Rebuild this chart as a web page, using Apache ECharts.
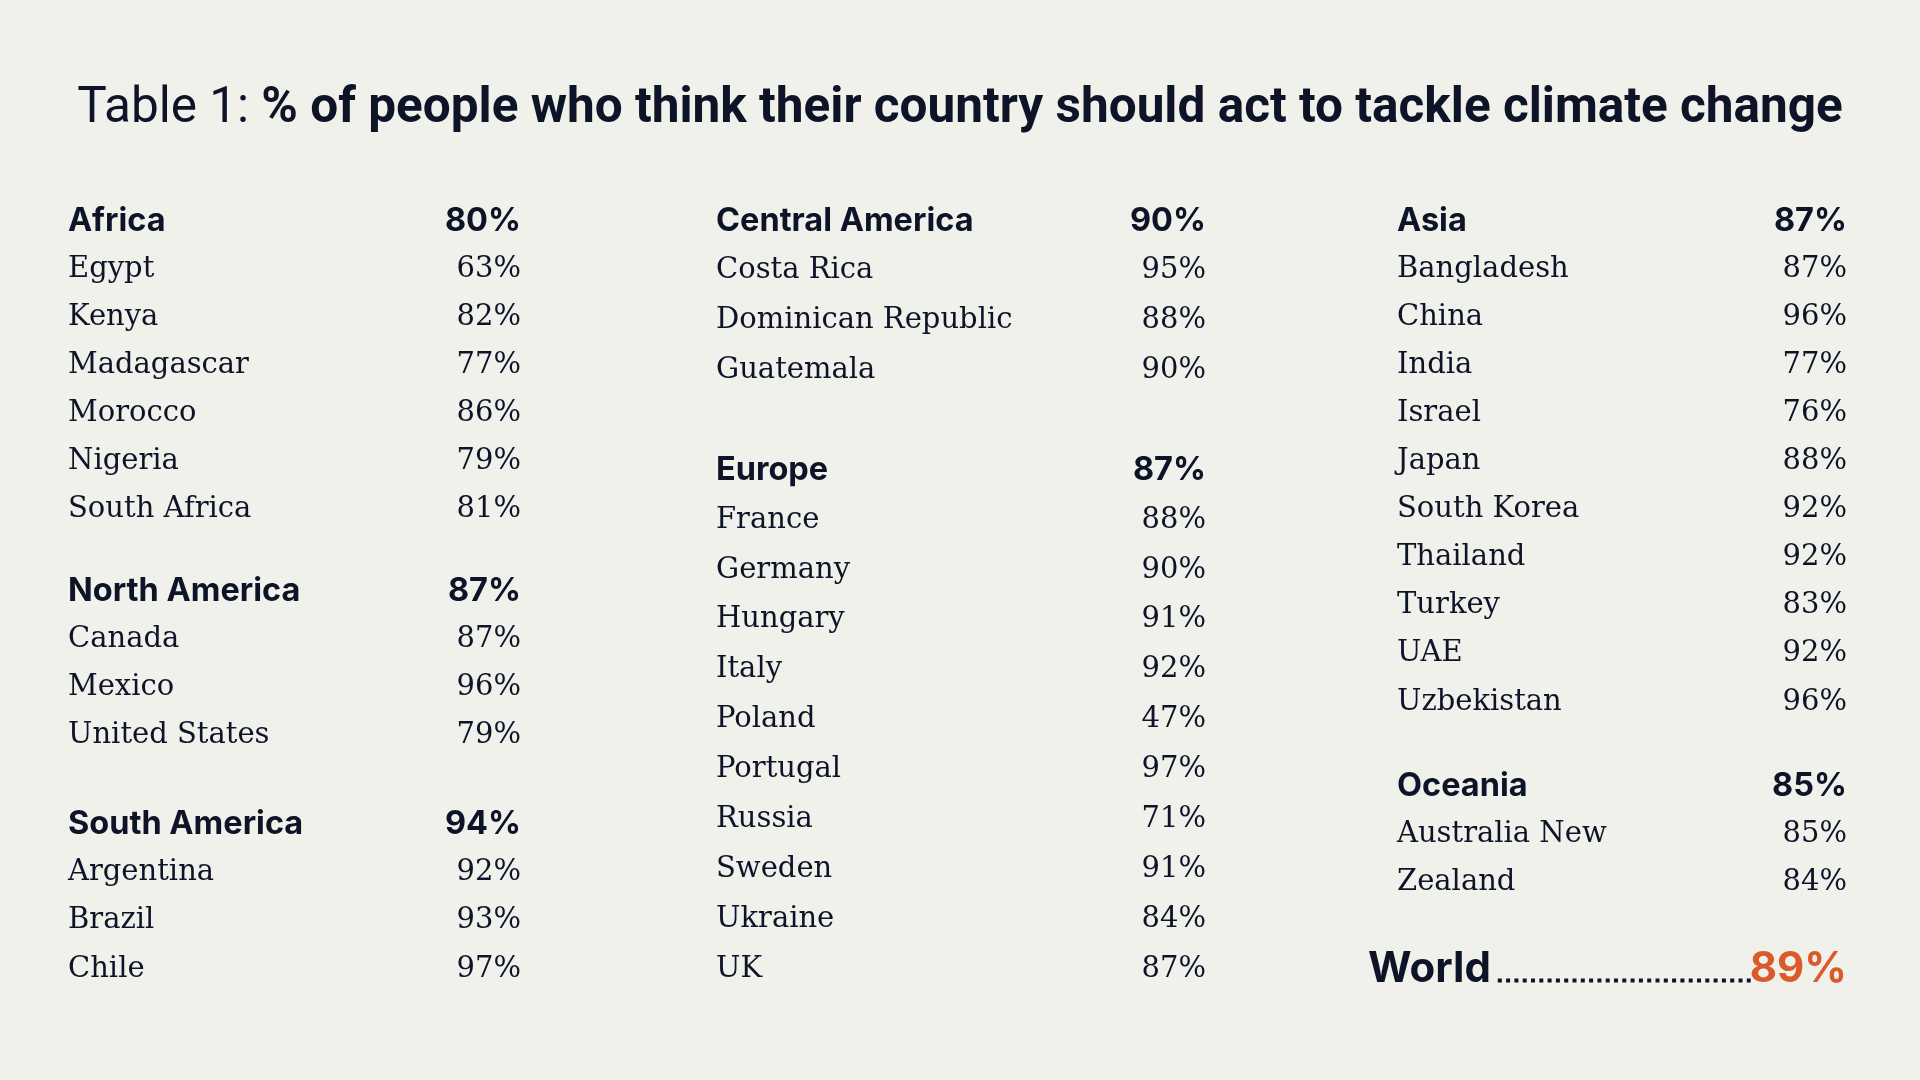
<!DOCTYPE html>
<html>
<head>
<meta charset="utf-8">
<script src="https://cdn.jsdelivr.net/npm/echarts@6/dist/echarts.min.js"></script>
<style>
html, body { margin: 0; padding: 0; background: #f1f1ec; }
#chart { width: 1920px; height: 1080px; }
</style>
</head>
<body>
<div id="chart"></div>
<script>
// region totals
var regionNames = ['Africa', 'North America', 'South America', 'Central America', 'Europe', 'Asia', 'Oceania'];
var regionValues = [80, 87, 94, 90, 87, 87, 85];

// countries per region
var africaNames = ['Egypt', 'Kenya', 'Madagascar', 'Morocco', 'Nigeria', 'South Africa'];
var africaValues = [63, 82, 77, 86, 79, 81];
var northAmericaNames = ['Canada', 'Mexico', 'United States'];
var northAmericaValues = [87, 96, 79];
var southAmericaNames = ['Argentina', 'Brazil', 'Chile'];
var southAmericaValues = [92, 93, 97];
var centralAmericaNames = ['Costa Rica', 'Dominican Republic', 'Guatemala'];
var centralAmericaValues = [95, 88, 90];
var europeNames = ['France', 'Germany', 'Hungary', 'Italy', 'Poland', 'Portugal', 'Russia', 'Sweden', 'Ukraine', 'UK'];
var europeValues = [88, 90, 91, 92, 47, 97, 71, 91, 84, 87];
var asiaNames = ['Bangladesh', 'China', 'India', 'Israel', 'Japan', 'South Korea', 'Thailand', 'Turkey', 'UAE', 'Uzbekistan'];
var asiaValues = [87, 96, 77, 76, 88, 92, 92, 83, 92, 96];
var oceaniaNames = ['Australia New', 'Zealand'];
var oceaniaValues = [85, 84];

var worldName = 'World';
var worldValue = 89;

var countryNames = [africaNames, northAmericaNames, southAmericaNames, centralAmericaNames, europeNames, asiaNames, oceaniaNames];
var countryValues = [africaValues, northAmericaValues, southAmericaValues, centralAmericaValues, europeValues, asiaValues, oceaniaValues];

// layout: which regions go in which column, and the extra gap before each later group
var columnRegions = [[0, 1, 2], [3, 4], [5, 6]];
var columnGaps = [[0.7, 0.85], [1.0], [0.75]];
var columnLeft = [68, 716, 1397];
var columnRight = [521, 1206, 1847];
var worldGap = 0.8;

var ink = '#0e1428';
var orange = '#db5a2b';
var serif = 'DejaVu Serif';
var sans = 'Inter';

var headerLabel = { fontFamily: sans, fontWeight: 700, fontSize: 32.5, color: ink };
var countryLabel = { fontFamily: serif, fontWeight: 400, fontSize: 29, color: ink };

var grids = [], xAxes = [], yAxes = [], series = [];

for (var c = 0; c < columnRegions.length; c++) {
    var rows = [];
    var pos = 0;
    for (var g = 0; g < columnRegions[c].length; g++) {
        var r = columnRegions[c][g];
        if (g > 0) pos += 1 + columnGaps[c][g - 1];
        rows.push({ name: regionNames[r], value: regionValues[r], y: pos, kind: 'header' });
        for (var k = 0; k < countryNames[r].length; k++) {
            pos += 1;
            rows.push({ name: countryNames[r][k], value: countryValues[r][k], y: pos, kind: 'country' });
        }
    }
    var worldY = null;
    if (c === 2) {
        pos += 1 + worldGap;
        worldY = pos;
        rows.push({ name: worldName, value: worldValue, y: pos, kind: 'world' });
    }

    grids.push({ left: columnLeft[c], right: 1920 - columnRight[c], top: 221, bottom: 111 });
    xAxes.push({ type: 'value', gridIndex: c, min: 0, max: 1, show: false });
    yAxes.push({ type: 'value', gridIndex: c, min: 0, max: pos, inverse: true, show: false });

    series.push({
        type: 'scatter',
        xAxisIndex: c,
        yAxisIndex: c,
        symbolSize: 0,
        silent: true,
        itemStyle: { opacity: 1 },
        label: { show: true, position: 'right', distance: 0, formatter: '{b}' },
        data: rows.map(function (row) {
            var lab = row.kind === 'header' ? headerLabel : countryLabel;
            if (row.kind === 'world') {
                lab = { fontFamily: sans, fontWeight: 700, fontSize: 42, color: ink, offset: [-29, 0] };
            }
            return { name: row.name, value: [0, row.y], label: lab };
        })
    });

    series.push({
        type: 'scatter',
        xAxisIndex: c,
        yAxisIndex: c,
        symbolSize: 0,
        silent: true,
        itemStyle: { opacity: 1 },
        label: {
            show: true, position: 'left', distance: 0, align: 'right',
            formatter: function (p) { return p.value[2] + '%'; }
        },
        data: rows.map(function (row) {
            var lab = row.kind === 'header' ? headerLabel : countryLabel;
            if (row.kind === 'world') {
                lab = { fontFamily: sans, fontWeight: 700, fontSize: 42, color: orange };
            }
            return { name: row.name, value: [1, row.y, row.value], label: lab };
        })
    });

    if (worldY !== null) {
        // dotted leader between World and its value
        series.push({
            type: 'line',
            xAxisIndex: c,
            yAxisIndex: c,
            symbol: 'none',
            silent: true,
            clip: false,
            lineStyle: { color: ink, width: 4, type: [4, 4.3], cap: 'butt' },
            data: [[0.224, worldY + 0.24], [0.786, worldY + 0.24]]
        });
    }
}

var chart = echarts.init(document.getElementById('chart'));
chart.setOption({
    backgroundColor: '#f1f1ec',
    animation: false,
    title: {
        text: '{r|Table 1: }{b|% of people who think their country should act to tackle climate change}',
        left: 'center',
        top: 80,
        textStyle: {
            rich: {
                r: { fontFamily: 'Roboto', fontWeight: 400, fontSize: 49.5, color: ink },
                b: { fontFamily: 'Roboto', fontWeight: 700, fontSize: 49.5, color: ink }
            }
        }
    },
    grid: grids,
    xAxis: xAxes,
    yAxis: yAxes,
    series: series
});

window.onresize = function () {
    chart.resize();
};
</script>
</body>
</html>
